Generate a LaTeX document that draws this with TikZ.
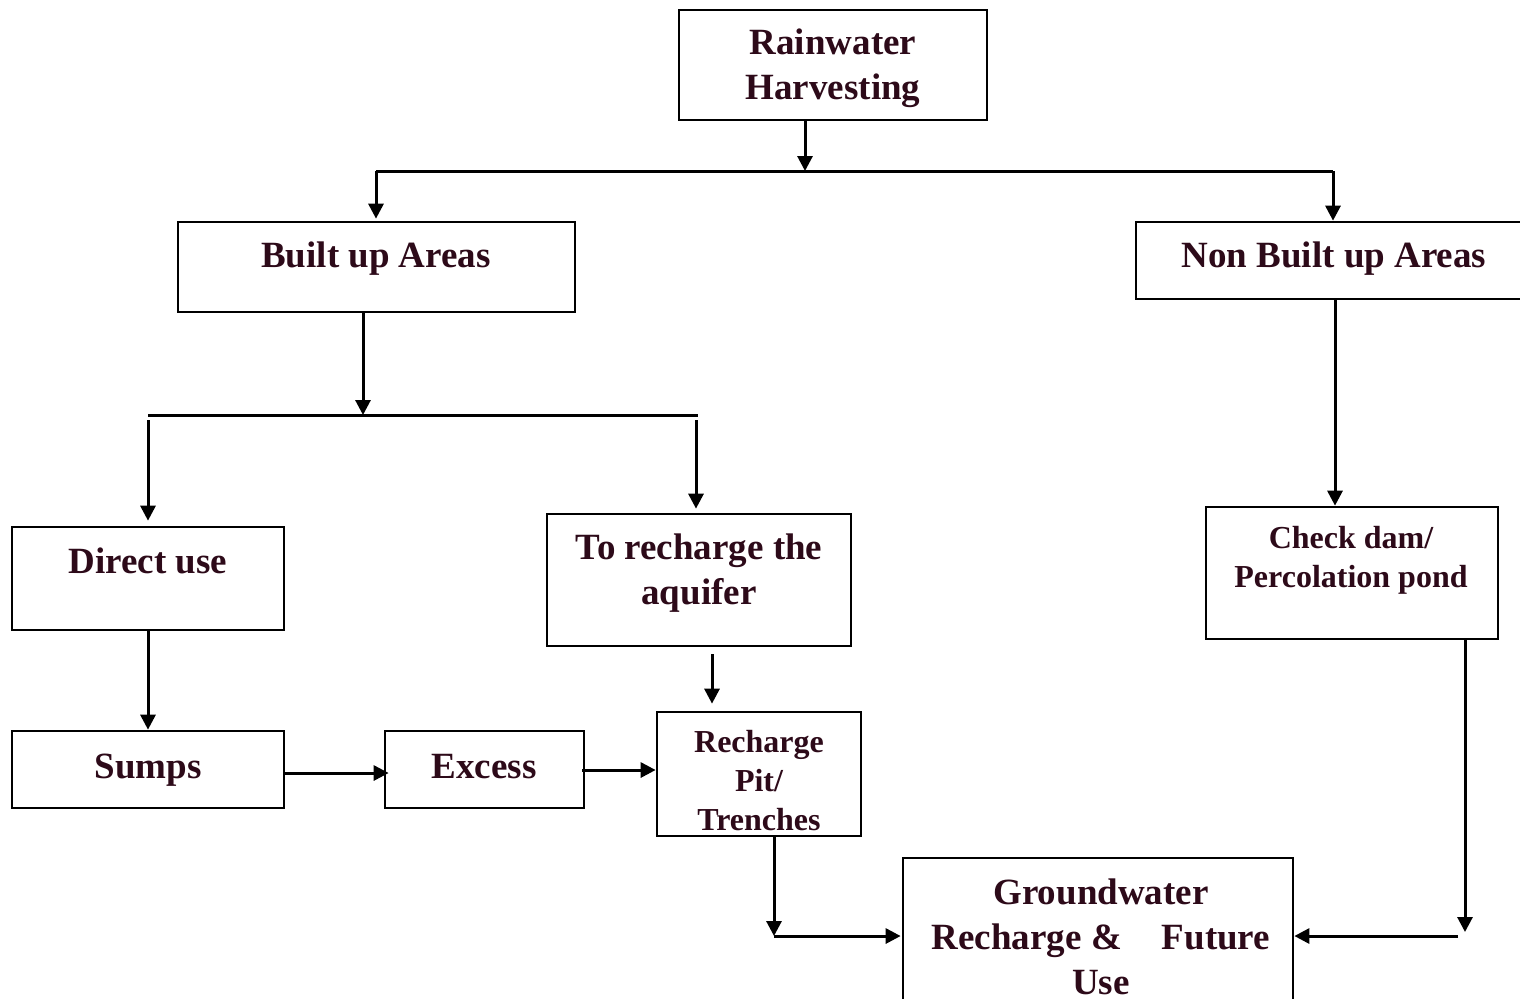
\documentclass[tikz,border=0pt]{standalone}
\usepackage{fontspec}
\setmainfont{Liberation Serif}
\usetikzlibrary{arrows.meta}
\definecolor{txtc}{RGB}{45,10,25}
\begin{document}
\begin{tikzpicture}[x=0.5pt,y=-0.5pt,
  box/.style={draw=black,line width=1.35pt,inner sep=0pt,fill=none},
  lbl/.style={text=txtc,align=center,inner sep=0pt,font=\fontsize{18.5pt}{22.5pt}\selectfont\bfseries},
  lbls/.style={text=txtc,align=center,inner sep=0pt,font=\fontsize{16pt}{19.5pt}\selectfont\bfseries},
  conn/.style={draw=black,line width=1.5pt},
  arr/.style={conn,-{Triangle[length=7.5pt,width=7.5pt]}}]
\clip (0,0) rectangle (1520,998);
\fill[white] (0,0) rectangle (1520,998);
% boxes
\node[box,minimum width=154pt,minimum height=55pt] (rw) at (833,65) {};
\node[box,minimum width=198.5pt,minimum height=45pt] (bu) at (376.5,267) {};
\node[box,minimum width=197pt,minimum height=38.5pt] (nbu) at (1333,260.5) {};
\node[box,minimum width=136pt,minimum height=51.5pt] (du) at (148,578.5) {};
\node[box,minimum width=152pt,minimum height=66pt] (tr) at (699,580) {};
\node[box,minimum width=146pt,minimum height=66pt] (cd) at (1352,573) {};
\node[box,minimum width=136pt,minimum height=38.5pt] (sm) at (148,769.5) {};
\node[box,minimum width=99.5pt,minimum height=38.5pt] (ex) at (484.5,769.5) {};
\node[box,minimum width=102pt,minimum height=62pt] (rp) at (759,774) {};
\node[box,minimum width=195pt,minimum height=80pt] (gw) at (1098,938) {};
% labels
\node[lbl] (trw) at (833,68.5) {Rainwater\\Harvesting};
\node[lbl] (tbu) at (376,259) {Built up Areas};
\node[lbl] (tnbu) at (1334,259) {Non Built up Areas};
\node[lbl] (tdu) at (148,561) {Direct use};
\node[lbl] (ttr) at (699,573.5) {To recharge the\\aquifer};
\node[lbls] (tcd) at (1351,560) {Check dam/\\Percolation pond};
\node[lbl] (tsm) at (148,770) {Sumps};
\node[lbl] (tex) at (484,767) {Excess};
\node[lbls] (trp) at (759,781) {Recharge\\Pit/\\Trenches};
\node[lbl] (tgw) at (1101,937) {Groundwater\\Recharge \&\hspace{20pt}Future\\Use};
% junction coordinates
\coordinate (j1) at (805,171);
\coordinate (hL) at (376,171);
\coordinate (hR) at (1333,171);
\coordinate (j2) at (363,415);
\coordinate (h2L) at (148,415);
\coordinate (h2R) at (698,415);
\coordinate (s1) at (148,420);
\coordinate (s2) at (696,420);
\coordinate (p1) at (712,654);
\coordinate (c1) at (774,936);
\coordinate (c2) at (1465,932);
\coordinate (c3) at (1458,936);
% connectors
\draw[arr] (rw.south -| j1) -- (j1);
\draw[conn] (hL) -- (hR);
\draw[arr] (hL) -- ([yshift=1pt]hL |- bu.north);
\draw[arr] (hR) -- ([yshift=0pt]hR |- nbu.north);
\draw[arr] (j2 |- bu.south) -- (j2);
\draw[conn] (h2L) -- (h2R);
\draw[arr] (s1) -- ([yshift=2.5pt]s1 |- du.north);
\draw[arr] (s2) -- ([yshift=2pt]s2 |- tr.north);
\draw[arr] (du.south) -- (sm.north);
\draw[arr] (sm.east |- 0,773) -- ([xshift=2.5pt]ex.west |- 0,773);
\draw[arr] ([xshift=-1.5pt]ex.east |- 0,770) -- (rp.west |- 0,770);
\draw[arr] (p1) -- ([yshift=3.5pt]p1 |- rp.north);
\draw[arr] (rp.south -| c1) -- (c1);
\draw[arr] (c1) -- ([xshift=-0.5pt]gw.west |- c1);
\draw[arr] (1335,0 |- nbu.south) -- (1335,0 |- cd.north);
\draw[arr] (cd.south -| c2) -- (c2);
\draw[arr] (c3) -- (gw.east |- c3);
\end{tikzpicture}
\end{document}
